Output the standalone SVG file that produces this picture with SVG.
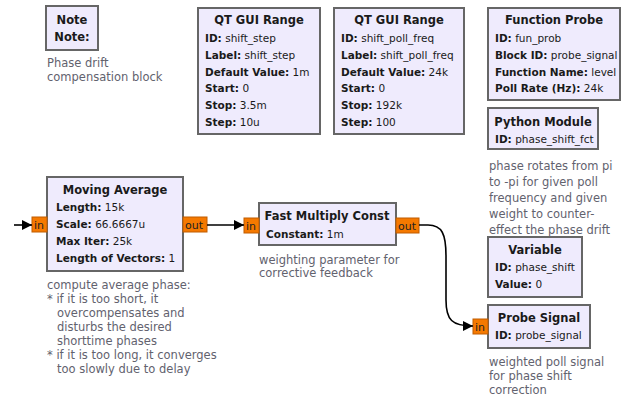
<svg xmlns="http://www.w3.org/2000/svg" width="623" height="397" viewBox="0 0 623 397">
<defs>
<style>
.blk{fill:#efebfd;stroke:#666666;stroke-width:2}
.port{fill:#f57900;stroke:#c05c00;stroke-width:1}
.t{font-family:"DejaVu Sans",sans-serif;font-size:10.5px;fill:#1a1a1a}
.ti{font-family:"DejaVu Sans",sans-serif;font-size:11.5px;font-weight:bold;fill:#1a1a1a;text-anchor:middle}
.k{font-weight:bold}
.pt{font-family:"DejaVu Sans",sans-serif;font-size:11px;fill:#222}
.c{font-family:"DejaVu Sans",sans-serif;font-size:11.5px;fill:#62626e}
.w{fill:none;stroke:#000;stroke-width:1.6}
</style>
<marker id="ah" viewBox="0 0 10 10" refX="10" refY="5" markerWidth="10" markerHeight="10" markerUnits="userSpaceOnUse" orient="auto">
<path d="M0,0 L10,5 L0,10 z" fill="#000"/>
</marker>
</defs>

<g id="note">
<rect class="blk" x="46" y="6" width="52" height="44"/>
<text class="ti" x="72" y="24">Note</text>
<text class="ti" x="72" y="41">Note:</text>
<text class="c" x="47" y="67">Phase drift</text>
<text class="c" x="47" y="81">compensation block</text>
</g>

<g id="qt_range_step">
<rect class="blk" x="198" y="8" width="122" height="126"/>
<text class="ti" x="259" y="24">QT GUI Range</text>
<text class="t" x="205" y="42"><tspan class="k">ID:</tspan> shift_step</text>
<text class="t" x="205" y="59"><tspan class="k">Label:</tspan> shift_step</text>
<text class="t" x="205" y="76"><tspan class="k">Default Value:</tspan> 1m</text>
<text class="t" x="205" y="92"><tspan class="k">Start:</tspan> 0</text>
<text class="t" x="205" y="109"><tspan class="k">Stop:</tspan> 3.5m</text>
<text class="t" x="205" y="126"><tspan class="k">Step:</tspan> 10u</text>
</g>

<g id="qt_range_poll">
<rect class="blk" x="334" y="8" width="130" height="126"/>
<text class="ti" x="399" y="24">QT GUI Range</text>
<text class="t" x="341" y="42"><tspan class="k">ID:</tspan> shift_poll_freq</text>
<text class="t" x="341" y="59"><tspan class="k">Label:</tspan> shift_poll_freq</text>
<text class="t" x="341" y="76"><tspan class="k">Default Value:</tspan> 24k</text>
<text class="t" x="341" y="92"><tspan class="k">Start:</tspan> 0</text>
<text class="t" x="341" y="109"><tspan class="k">Stop:</tspan> 192k</text>
<text class="t" x="341" y="126"><tspan class="k">Step:</tspan> 100</text>
</g>

<g id="function_probe">
<rect class="blk" x="488" y="8" width="132" height="92"/>
<text class="ti" x="554" y="24">Function Probe</text>
<text class="t" x="495" y="42"><tspan class="k">ID:</tspan> fun_prob</text>
<text class="t" x="495" y="59"><tspan class="k">Block ID:</tspan> probe_signal</text>
<text class="t" x="495" y="76"><tspan class="k">Function Name:</tspan> level</text>
<text class="t" x="495" y="92"><tspan class="k">Poll Rate (Hz):</tspan> 24k</text>
</g>

<g id="python_module">
<rect class="blk" x="488" y="108" width="110" height="41"/>
<text class="ti" x="543" y="126">Python Module</text>
<text class="t" x="495" y="143"><tspan class="k">ID:</tspan> phase_shift_fct</text>
<text class="c" x="489" y="170">phase rotates from pi</text>
<text class="c" x="489" y="186">to -pi for given poll</text>
<text class="c" x="489" y="202">frequency and given</text>
<text class="c" x="489" y="218">weight to counter-</text>
<text class="c" x="489" y="234">effect the phase drift</text>
</g>

<g id="variable">
<rect class="blk" x="488" y="237" width="94" height="60"/>
<text class="ti" x="535" y="254">Variable</text>
<text class="t" x="495" y="271"><tspan class="k">ID:</tspan> phase_shift</text>
<text class="t" x="495" y="288"><tspan class="k">Value:</tspan> 0</text>
</g>

<g id="probe_signal">
<rect class="blk" x="488" y="305" width="102" height="43"/>
<text class="ti" x="539" y="322">Probe Signal</text>
<text class="t" x="495" y="339"><tspan class="k">ID:</tspan> probe_signal</text>
<rect class="port" x="473" y="319" width="15" height="15"/>
<text class="pt" x="475" y="331">in</text>
<text class="c" x="489" y="366">weighted poll signal</text>
<text class="c" x="489" y="380">for phase shift</text>
<text class="c" x="489" y="394">correction</text>
</g>

<g id="moving_average">
<rect class="blk" x="47" y="177" width="136" height="94"/>
<text class="ti" x="115" y="194">Moving Average</text>
<text class="t" x="56" y="211"><tspan class="k">Length:</tspan> 15k</text>
<text class="t" x="56" y="228"><tspan class="k">Scale:</tspan> 66.6667u</text>
<text class="t" x="56" y="245"><tspan class="k">Max Iter:</tspan> 25k</text>
<text class="t" x="56" y="262"><tspan class="k">Length of Vectors:</tspan> 1</text>
<rect class="port" x="32" y="217" width="15" height="15"/>
<text class="pt" x="34" y="229">in</text>
<rect class="port" x="183" y="217" width="24" height="15"/>
<text class="pt" x="185" y="229">out</text>
<text class="c" x="47" y="289">compute average phase:</text>
<text class="c" x="47" y="303">* if it is too short, it</text>
<text class="c" x="57" y="317">overcompensates and</text>
<text class="c" x="57" y="331">disturbs the desired</text>
<text class="c" x="57" y="345">shorttime phases</text>
<text class="c" x="47" y="359">* if it is too long, it converges</text>
<text class="c" x="57" y="373">too slowly due to delay</text>
</g>

<g id="fast_multiply_const">
<rect class="blk" x="259" y="203" width="137" height="42"/>
<text class="ti" x="327" y="220">Fast Multiply Const</text>
<text class="t" x="266" y="238"><tspan class="k">Constant:</tspan> 1m</text>
<rect class="port" x="244" y="218" width="15" height="15"/>
<text class="pt" x="246" y="230">in</text>
<rect class="port" x="396" y="218" width="23" height="15"/>
<text class="pt" x="398" y="230">out</text>
<text class="c" x="259" y="264">weighting parameter for</text>
<text class="c" x="259" y="277">corrective feedback</text>
</g>

<g id="connectors">
<path class="w" d="M14,225 L32,225" marker-end="url(#ah)"/>
<path class="w" d="M207,225 L244,225" marker-end="url(#ah)"/>
<path class="w" d="M419,225 L428,225 C442,225 446,234 446,256 L446,300 C446,320 452,326 473,326" marker-end="url(#ah)"/>
</g>
</svg>
